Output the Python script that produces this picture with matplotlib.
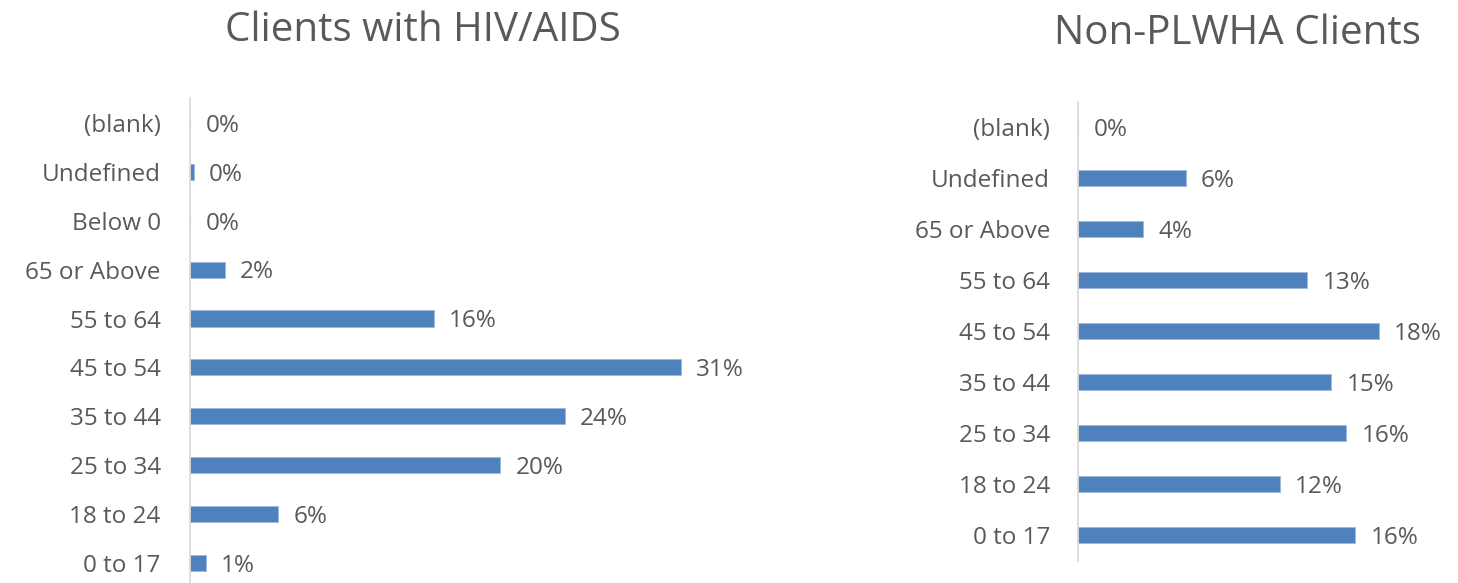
import matplotlib
matplotlib.use("Agg")
import matplotlib.pyplot as plt

plt.rcParams['font.family'] = ['Open Sans', 'DejaVu Sans']

# Left chart: Clients with HIV/AIDS (top to bottom order)
left_title = "Clients with HIV/AIDS"
left_categories = ["(blank)", "Undefined", "Below 0", "65 or Above", "55 to 64",
                   "45 to 54", "35 to 44", "25 to 34", "18 to 24", "0 to 17"]
left_values = [0.0, 0.25, 0.0, 2.2, 15.5, 31.2, 23.8, 19.7, 5.6, 1.0]

# Right chart: Non-PLWHA Clients (top to bottom order)
right_title = "Non-PLWHA Clients"
right_categories = ["(blank)", "Undefined", "65 or Above", "55 to 64", "45 to 54",
                    "35 to 44", "25 to 34", "18 to 24", "0 to 17"]
right_values = [0.0, 6.3, 3.8, 13.4, 17.6, 14.8, 15.7, 11.8, 16.2]

W, H = 1458, 583
fig = plt.figure(figsize=(W / 100, H / 100), dpi=100)

BAR = "#4F81BD"
TXT = "#595959"
AX = "#D9D9D9"


def px_axes(x0, x1, ytop, ybot):
    return fig.add_axes([x0 / W, (H - ybot) / H, (x1 - x0) / W, (ybot - ytop) / H])


def draw(ax, cats, vals, xmax, pad):
    n = len(cats)
    ys = list(range(n - 1, -1, -1))
    ax.barh(ys, vals, height=0.33, color=BAR, edgecolor="#9DB9DE", linewidth=0.6)
    ax.set_xlim(0, xmax)
    ax.set_ylim(-0.5, n - 0.5)
    ax.set_yticks(ys)
    ax.set_yticklabels(cats, fontsize=17.5, color=TXT)
    ax.tick_params(axis="y", length=0, pad=pad)
    ax.set_xticks([])
    for s in ["top", "right", "bottom"]:
        ax.spines[s].set_visible(False)
    ax.spines["left"].set_color(AX)
    ax.spines["left"].set_linewidth(1.2)
    for y, v in zip(ys, vals):
        ax.annotate(f"{round(v):.0f}%", xy=(v, y), xytext=(11, -2),
                    textcoords="offset points", ha="left", va="center",
                    fontsize=17.5, color=TXT)


axL = px_axes(190, 760, 98.5, 587.4)
draw(axL, left_categories, left_values, 570 / 15.74, 21)

axR = px_axes(1078, 1458, 101.5, 560.5)
draw(axR, right_categories, right_values, 380 / 17.1, 20)

fig.text(423 / W, 1 - 31 / H, left_title, ha="center", va="center", fontsize=29, color=TXT)
fig.text(1237 / W, 1 - 34 / H, right_title, ha="center", va="center", fontsize=29, color=TXT)

fig.savefig("out.png", dpi=100)
